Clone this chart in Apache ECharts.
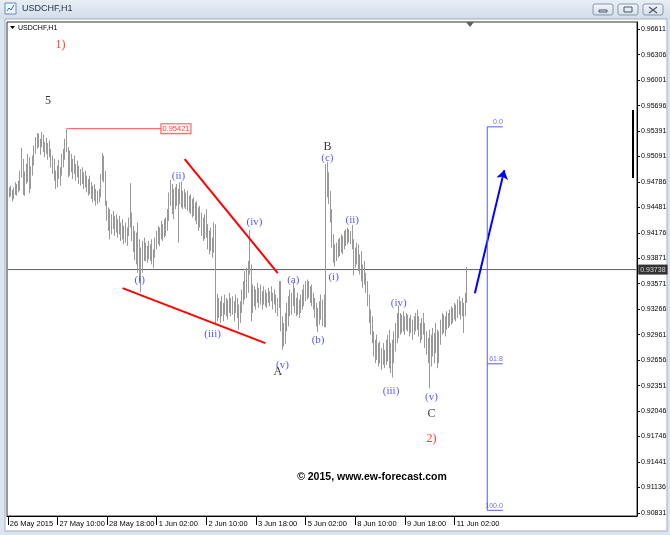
<!DOCTYPE html>
<html><head><meta charset="utf-8">
<script src="https://cdn.jsdelivr.net/npm/echarts@6/dist/echarts.min.js"></script>
<style>html,body{margin:0;padding:0;background:#dbe4ef}#c{width:670px;height:535px}</style>
</head><body><div id="c"></div>
<script>
// ---- tick labels ----
const xTickLabels = ['26 May 2015','27 May 10:00','28 May 18:00','1 Jun 02:00','2 Jun 10:00','3 Jun 18:00','5 Jun 02:00','8 Jun 10:00','9 Jun 18:00','11 Jun 02:00'];
const yTickLabels = [0.96611,0.96306,0.96001,0.95696,0.95391,0.95091,0.94786,0.94481,0.94176,0.93871,0.93571,0.93266,0.92961,0.92656,0.92351,0.92046,0.91746,0.91441,0.91136,0.90831];

// ---- USDCHF H1 bars ----
const firstOpen = 0.9462;
const highs = [
.9470,.9472,.9474,.9469,.9472,.9478,.9476,.9480,
.9492,.9519,.9506,
.9491,.9500,.9512,.9508,.9497,.9510,
.9522,.9532,.9537,.9536,.9530,.9538,.9535,.9526,.9531,.9525,.9528,.9518,.9510,
.9506,.9492,.9498,.9505,.9496,.9512,
.9518,.9530,.95421,
.9520,.9516,.9512,.9506,.9510,.9500,.9504,.9498,
.9494,.9496,.9490,.9492,.9486,.9482,.9486,.9478,.9474,.9476,.9470,.9468,.9470,
.9488,.9513,.9510,.9492,
.9456,.9448,.9446,.9440,.9444,.9438,.9440,.9434,.9438,.9430,.9434,.9426,.9430,.9424,.9436,.9477,
.9442,.9426,.9420,.9418,.9430,.9410,.9400,.9408,.9412,
.9406,.9402,.9408,.9404,.9410,.9398,.9412,
.9420,.9426,.9424,.9432,.9428,.9434,.9436,
.9446,.9466,.9481,.9476,.9470,
.9472,.9476,.9470,.9478,.9479,
.9468,.9470,.9466,.9468,.9462,.9464,.9458,.9460,.9454,.9456,.9448,.9450,.9442,.9436,
.9440,.9446,.9428,.9420,.9424,.9412,.9430,
.9428,
.9345,.9340,.9336,.9342,.9334,.9344,.9340,.9338,.9346,.9340,.9342,.9336,.9344,.9340,.9332,.9336,.9350,.9360,
.9372,.9376,.9384,.9421,.9380,
.9356,.9354,.9350,.9358,.9352,.9356,.9348,.9354,.9350,.9346,.9352,.9348,.9354,.9346,.9350,.9344,.9340,.9360,
.9360,.9318,
.9310,.9322,.9334,.9342,.9350,.9346,.9358,
.9352,.9340,.9346,.9338,.9344,.9350,.9356,.9360,
.9362,.9360,.9354,.9356,.9346,.9340,
.9334,.9328,.9336,.9344,.9338,.9344,
.9500,.95025,
.9490,.9468,.9446,
.9416,.9404,
.9406,.9410,.9412,.9416,.9414,.9420,.9422,
.9424,.9422,.9420,.9427,
.9410,.9400,
.9406,.9404,.9392,.9396,.9380,.9384,.9370,
.9360,.9344,.9326,.9318,
.9300,.9290,.9296,.9286,.9288,.9280,.9286,.9278,.9290,.9296,.9302,.9286,
.9290,
.9300,.9310,.9322,.9331,
.9322,.9320,.9324,.9318,.9322,.9320,.9316,.9320,.9314,.9318,.9322,.9326,.9318,.9310,.9316,
.9322,.9310,.9300,
.9292,.9302,
.9296,.9304,.9298,.9310,.9302,.9300,
.9314,.9322,.9320,.9318,.9324,
.9322,.9326,.9330,.9328,.9334,.9332,
.9338,.9342,.9336,.9340,.9334,
.9346,
.9377];
const lows = [
.9449,.9460,.9461,.9455,.9458,.9463,.9462,.9466,
.9468,.9484,.9463,
.9462,.9476,.9478,.9465,.9470,.9486,
.9498,.9512,.9518,.9520,.9511,.9520,.9514,.9508,.9512,.9505,.9508,.9496,.9488,
.9480,.9470,.9472,.9482,.9474,.9486,
.9496,.9505,.9514,
.9484,.9486,.9490,.9482,.9488,.9480,.9484,.9476,
.9474,.9476,.9470,.9472,.9466,.9462,.9464,.9458,.9454,.9456,.9450,.9452,.9454,
.9460,.9480,.9478,.9450,
.9432,.9420,.9410,.9416,.9422,.9414,.9418,.9412,.9416,.9408,.9410,.9404,.9406,.9402,.9414,.9424,
.9408,.9395,.9385,.9380,.9370,.9360,.93465,.9370,.9384,
.9384,.9382,.9386,.9384,.9380,.9376,.9388,
.9398,.9404,.9402,.9410,.9408,.9412,.9414,
.9420,.9432,.9450,.9440,.9434,
.9446,.9450,.9406,.9452,.9448,
.9446,.9448,.9446,.9444,.9442,.9440,.9436,.9438,.9432,.9428,.9420,.9424,.9414,.9408,
.9410,.9412,.9398,.9392,.9396,.9388,.9394,
.9310,
.9312,.9316,.9310,.9318,.9312,.9320,.9318,.9314,.9322,.9318,.9320,.9312,.9322,.9316,.9302,.9310,.9322,.9332,
.9338,.9340,.9346,.9368,.9312,
.9322,.9330,.9326,.9334,.9328,.9332,.9326,.9332,.9330,.9328,.9334,.9330,.9336,.9326,.9332,.9322,.9318,.9328,
.9300,.9278,
.9282,.9285,.9300,.9306,.9318,.9320,.9330,
.9322,.9318,.9320,.9316,.9322,.9326,.9330,.9336,
.9338,.9340,.9334,.9330,.9326,.9316,
.9306,.9299,.9308,.9314,.9306,.9305,
.9305,.9460,
.9452,.9430,.9400,
.9382,.93775,
.9384,.9388,.9390,.9394,.9392,.9398,.9402,
.9404,.9406,.9404,.9398,
.9367,.9376,
.9380,.9372,.9368,.9360,.9352,.9356,.9346,
.9330,.9310,.9296,.9286,
.9270,.9262,.9266,.9258,.9262,.9254,.9260,.9256,.9260,.9264,.9256,.9250,
.9245,
.9262,.9276,.9286,.9292,
.9296,.9298,.9300,.9296,.9302,.9300,.9294,.9298,.9290,.9296,.9300,.9302,.9294,.9286,.9290,
.9296,.9280,.9272,
.9262,.9232,
.9258,.9270,.9262,.9274,.9256,.9262,
.9284,.9296,.9298,.9294,.9302,
.9304,.9306,.9308,.9310,.9314,.9312,
.9316,.9320,.9314,.9318,.9298,
.9318,
.9334];
const closes = [
.9466,.9468,.9463,.9460,.9470,.9466,.9474,.9471,
.9488,.9503,.9472,
.9485,.9480,.9506,.9474,.9492,.9504,
.9518,.9526,.9530,.9524,.9528,.9533,.9519,.9522,.9516,.9520,.9512,.9502,.9494,
.9486,.9476,.9494,.9488,.9492,.9508,
.9510,.9524,.9518,
.9490,.9508,.9496,.9500,.9492,.9494,.9488,.9482,
.9486,.9480,.9484,.9476,.9470,.9478,.9468,.9464,.9470,.9460,.9456,.9466,.9462,
.9484,.9500,.9486,.9456,
.9440,.9436,.9420,.9432,.9426,.9430,.9424,.9428,.9420,.9424,.9416,.9418,.9412,.9420,.9428,.9440,
.9416,.9404,.9410,.9388,.9378,.9370,.9382,.9398,.9392,
.9390,.9398,.9392,.9400,.9386,.9394,.9406,
.9414,.9410,.9420,.9418,.9424,.9420,.9430,
.9440,.9460,.9468,.9452,.9462,
.9466,.9456,.9462,.9470,.9460,
.9462,.9454,.9460,.9450,.9456,.9446,.9450,.9442,.9446,.9434,.9440,.9430,.9422,.9416,
.9430,.9418,.9406,.9414,.9400,.9408,.9402,
.9322,
.9330,.9324,.9330,.9322,.9328,.9336,.9326,.9332,.9328,.9334,.9326,.9330,.9338,.9324,.9318,.9330,.9344,.9352,
.9366,.9350,.9378,.9376,.9340,
.9346,.9338,.9344,.9340,.9348,.9336,.9342,.9346,.9338,.9342,.9340,.9344,.9338,.9340,.9346,.9330,.9336,.9350,
.9306,.9294,
.9300,.9316,.9310,.9336,.9326,.9340,.9344,
.9330,.9336,.9326,.9332,.9338,.9342,.9348,.9352,
.9356,.9346,.9350,.9338,.9332,.9322,
.9312,.9318,.9330,.9320,.9326,.9312,
.9478,.9486,
.9460,.9438,.9408,
.9390,.9396,
.9400,.9396,.9406,.9402,.9410,.9412,.9416,
.9418,.9414,.9416,.9404,
.9388,.9394,
.9398,.9380,.9386,.9366,.9374,.9360,.9352,
.9336,.9318,.9304,.9292,
.9278,.9284,.9272,.9276,.9268,.9274,.9266,.9270,.9282,.9272,.9264,.9276,
.9282,
.9294,.9302,.9312,.9316,
.9310,.9314,.9306,.9312,.9316,.9308,.9310,.9304,.9306,.9312,.9316,.9308,.9300,.9296,.9310,
.9300,.9286,.9278,
.9270,.9262,
.9284,.9278,.9290,.9286,.9270,.9294,
.9306,.9316,.9304,.9312,.9318,
.9314,.9320,.9316,.9324,.9320,.9328,
.9330,.9326,.9332,.9324,.9328,
.9340,
.93738];
const currentPrice = 0.93738;

// ---- annotations (bar index, price, text) ----
const blueLabels = [[85,0.9361,'(i)'],[110,0.9485,'(ii)'],[132,0.9297,'(iii)'],[159,0.9430,'(iv)'],[177,0.9260,'(v)'],
  [184,0.9361,'(a)'],[200,0.9290,'(b)'],[206,0.9507,'(c)'],[210,0.9365,'(i)'],[222,0.9433,'(ii)'],
  [247,0.9229,'(iii)'],[252,0.9334,'(iv)'],[273,0.9221,'(v)']];
const blackLabels = [[26,0.9575,'5'],[206,0.9520,'B'],[174,0.9252,'A'],[273,0.9201,'C']];
const redLabels = [[34,0.9642,'1)'],[273,0.9172,'2)']];
const upperWedge = [[114,0.95058],[174,0.93695]];
const lowerWedge = [[74,0.93516],[166,0.92859]];
const highLine = [[38,0.95421],[99,0.95421]];
const highLabel = [99,0.95421,'0.95421'];
const arrowLine = [[301,0.93456],[320,0.94926]];
const fibTop = 0.95443, fibBottom = 0.90863;
const fibLevels = [0, 61.8, 100];
const fibLevelText = ['0.0','61.8','100.0'];
const fibX = [309, 319];

const nCat = 406;
const categories = Array.from({length:nCat}, (_, i) => String(i));
const ohlc = closes.map((c, i) => [i === 0 ? firstOpen : closes[i-1], c, lows[i], highs[i]]);
const fibPrices = fibLevels.map(l => fibTop - l/100*(fibTop - fibBottom));

const chart = echarts.init(document.getElementById('c'));
const gray = '#999999';
const serif = '"Liberation Serif","DejaVu Serif",serif';
const sans = '"Liberation Sans",Arial,sans-serif';

function labelSeries(arr, color, size, weight) {
  return {type:'scatter', data: arr.map(d => ({value:[d[0], d[1]], name:d[2]})),
    symbolSize: 1, itemStyle:{color:'rgba(0,0,0,0)'}, silent:true, z:6,
    emphasis:{disabled:true},
    label:{show:true, position:'inside', formatter:p => p.name, color, fontSize:size, fontFamily:serif, fontWeight: weight || 'normal'}};
}
function segSeries(pts, color, width, z) {
  return {type:'line', data: pts, showSymbol:false, symbol:'none', silent:true, z: z || 5,
    lineStyle:{color, width}, emphasis:{disabled:true}};
}

const fibSeries = [segSeries([[fibX[0], fibTop],[fibX[0], fibBottom]], '#5a5aff', 1)];
fibPrices.forEach(p => fibSeries.push(segSeries([[fibX[0], p],[fibX[1], p]], '#5a5aff', 1)));
fibSeries.push({type:'scatter', silent:true, z:6, symbolSize:1, itemStyle:{color:'rgba(0,0,0,0)'},
  data: fibPrices.map((p, i) => ({value:[fibX[1], p], name: fibLevelText[i]})),
  label:{show:true, position:'inside', align:'right', verticalAlign:'bottom', offset:[0,-1],
    formatter:p => p.name, color:'#4a4aff', fontSize:7, fontFamily:sans}});

const btn = (x) => ({type:'rect', shape:{x, y:4, width:20, height:11, r:2},
  style:{fill:new echarts.graphic.LinearGradient(0,0,0,1,[{offset:0,color:'#f4f7fb'},{offset:1,color:'#d4dde9'}]), stroke:'#8797ad', lineWidth:1}, z:-5});

const option = {
  animation:false,
  backgroundColor:'#dbe4ef',
  grid:{left:7, right:33, top:22, bottom:19, show:true, borderColor:'#303030', borderWidth:1, backgroundColor:'#fff'},
  xAxis:{type:'category', data:categories, boundaryGap:true,
    axisLine:{show:true, lineStyle:{color:'#000', width:1}},
    axisTick:{show:true, alignWithLabel:true, length:9, lineStyle:{color:'#000'},
      interval:(idx) => idx % 32 === 0 && idx/32 < xTickLabels.length},
    axisLabel:{show:true, interval:(idx) => idx % 32 === 0 && idx/32 < xTickLabels.length,
      formatter:(v, idx) => xTickLabels[idx/32] || '', align:'left', margin:4, padding:[0,0,0,2],
      fontSize:7.5, color:'#000', fontFamily:sans},
    splitLine:{show:false}},
  yAxis:{type:'value', position:'right', min:0.90795, max:0.96695, scale:true,
    axisLine:{show:true, lineStyle:{color:'#000', width:1}},
    axisTick:{show:true, length:3, customValues:yTickLabels, lineStyle:{color:'#000'}},
    axisLabel:{show:true, customValues:yTickLabels, formatter:v => v.toFixed(5), fontSize:7, color:'#000', margin:4, fontFamily:sans},
    splitLine:{show:false}},
  series:[
    segSeries([[0, currentPrice],[nCat-1, currentPrice]], '#606060', 1, 2),
    {type:'candlestick', data:ohlc, barWidth:1, silent:true, z:3,
      itemStyle:{color:gray, color0:gray, borderColor:gray, borderColor0:gray, borderColorDoji:gray, borderWidth:1},
      markLine:{silent:true, symbol:['none','arrow'], symbolSize:9, animation:false, label:{show:false},
        data:[
          [{coord:arrowLine[0]}, {coord:arrowLine[1], lineStyle:{color:'#0000ff', width:2, type:'solid'}}]
        ], lineStyle:{color:'#0000ff', width:2, type:'solid'}}},
    {type:'scatter', silent:true, z:8, symbolSize:1, itemStyle:{color:'rgba(0,0,0,0)'},
      data:[{value:[nCat-1, currentPrice], name:currentPrice.toFixed(5)}],
      label:{show:true, position:'inside', align:'left', offset:[2,0], formatter:p => p.name, color:'#fff',
        backgroundColor:'#000', padding:[2,2,1,2], fontSize:7, fontFamily:sans}},
    segSeries(upperWedge, '#ff0000', 2),
    segSeries(lowerWedge, '#ff0000', 2),
    segSeries(highLine, '#ff5050', 1),
    {type:'scatter', silent:true, z:7, symbolSize:1, itemStyle:{color:'rgba(0,0,0,0)'},
      data:[{value:[highLabel[0], highLabel[1]], name:highLabel[2]}],
      label:{show:true, position:'inside', align:'left', formatter:p => p.name, color:'#ff0000', fontSize:7.5, fontFamily:sans,
        backgroundColor:'#fff', borderColor:'#ff3030', borderWidth:1, padding:[1,1,0,1]}},
    ...fibSeries,
    labelSeries(blueLabels, '#2a2aff', 11),
    labelSeries(blackLabels, '#000', 12),
    labelSeries(redLabels, '#ff0000', 12)
  ],
  graphic:[
    {type:'rect', shape:{x:0, y:0, width:670, height:19},
      style:{fill:new echarts.graphic.LinearGradient(0,0,0,1,[{offset:0,color:'#e8eef6'},{offset:1,color:'#d3ddea'}])}, z:-10},
    {type:'rect', shape:{x:5, y:19, width:662, height:512}, style:{fill:'#fff', stroke:'#a3afbf', lineWidth:1}, z:-10},
    {type:'rect', shape:{x:5, y:3, width:11, height:11}, style:{fill:'#eef4fb', stroke:'#6b8cb5', lineWidth:1}, z:-5},
    {type:'polyline', shape:{points:[[7,11],[9,8],[11,10],[14,5]]}, style:{stroke:'#3a6fb0', lineWidth:1, fill:null}, z:-5},
    {type:'text', x:22, y:9, style:{text:'USDCHF,H1', font:'9px "Liberation Sans"', fill:'#1f2f45', verticalAlign:'middle'}, z:-5},
    btn(593), btn(618), btn(643),
    {type:'rect', shape:{x:599, y:10, width:8, height:2}, style:{fill:null, stroke:'#4a5668', lineWidth:1}, z:-4},
    {type:'rect', shape:{x:624, y:7, width:8, height:5}, style:{fill:null, stroke:'#4a5668', lineWidth:1}, z:-4},
    {type:'polyline', shape:{points:[[649,7],[657,13]]}, style:{stroke:'#4a5668', lineWidth:1.2}, z:-4},
    {type:'polyline', shape:{points:[[657,7],[649,13]]}, style:{stroke:'#4a5668', lineWidth:1.2}, z:-4},
    {type:'polygon', shape:{points:[[10,26],[15,26],[12.5,29]]}, style:{fill:'#000'}, z:10},
    {type:'text', x:18, y:28, style:{text:'USDCHF,H1', font:'7px "Liberation Sans"', fill:'#000', verticalAlign:'middle'}, z:10},
    {type:'polygon', shape:{points:[[466,22],[474,22],[470,27]]}, style:{fill:'#606060'}, z:10},
    {type:'rect', shape:{x:632, y:110, width:2, height:68}, style:{fill:'#000'}, z:10},
    {type:'text', x:372, y:477, style:{text:'© 2015, www.ew-forecast.com', font:'bold 10.5px "Liberation Sans"', fill:'#000', align:'center', verticalAlign:'middle'}, z:10}
  ]
};
chart.setOption(option);
</script>
</body></html>
